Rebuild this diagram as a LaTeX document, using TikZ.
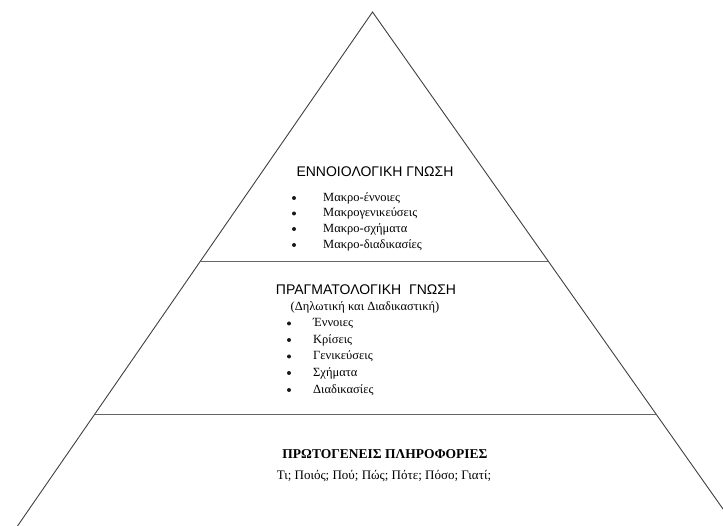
\documentclass[tikz,border=0pt]{standalone}
\usepackage{fontspec}
\setmainfont{Liberation Serif}
\newfontfamily\arialfont{Liberation Sans}
\begin{document}
\begin{tikzpicture}[x=1pt,y=-1pt,
  side/.style={draw=black!75,line width=0.9pt},
  divider/.style={draw=black!60,line width=0.8pt},
  heading/.style={font=\arialfont\fontsize{14}{16}\selectfont,inner sep=0pt},
  sub/.style={font=\fontsize{12.5}{14}\selectfont,inner sep=0pt},
  item/.style={font=\fontsize{12.5}{14}\selectfont,anchor=west,inner sep=0pt},
  dot/.style={circle,fill=black!90,inner sep=0pt,minimum size=4pt},
  basetitle/.style={font=\bfseries\fontsize{13.5}{15}\selectfont,inner sep=0pt},
  baseline/.style={font=\fontsize{13}{15}\selectfont,inner sep=0pt}]
\useasboundingbox (0,0) rectangle (723,526);
\coordinate (apex) at (372.5,12);
\coordinate (leftfoot) at (17.5,526);
\coordinate (rightfoot) at (735,526);
\coordinate (d1l) at (200.7,261);
\coordinate (d1r) at (548,261);
\coordinate (d2l) at (95,414);
\coordinate (d2r) at (656,414);
\begin{scope}
\clip (0,0) rectangle (723,526);
\draw[side] (leftfoot) -- (apex) -- (rightfoot);
\end{scope}
\draw[divider] (d1l) -- (d1r);
\draw[divider] (d2l) -- (d2r);

% top section
\node[heading] (t1) at (375,172) {ΕΝΝΟΙΟΛΟΓΙΚΗ ΓΝΩΣΗ};
\node[dot] (b11) at (294,198) {};
\node[dot] (b12) at (294,213.5) {};
\node[dot] (b13) at (294,229) {};
\node[dot] (b14) at (294,245) {};
\node[item] (i11) at (323,198) {Μακρο-έννοιες};
\node[item] (i12) at (323,213.5) {Μακρογενικεύσεις};
\node[item] (i13) at (323,229) {Μακρο-σχήματα};
\node[item] (i14) at (323,245) {Μακρο-διαδικασίες};

% middle section
\node[heading] (t2) at (366,290) {ΠΡΑΓΜΑΤΟΛΟΓΙΚΗ\ \ ΓΝΩΣΗ};
\node[sub] (s2) at (365,307) {(Δηλωτική και Διαδικαστική)};
\node[dot] (b21) at (289,323.5) {};
\node[dot] (b22) at (289,340) {};
\node[dot] (b23) at (289,356.5) {};
\node[dot] (b24) at (289,373) {};
\node[dot] (b25) at (289,390) {};
\node[item] (i21) at (313,323.5) {Έννοιες};
\node[item] (i22) at (313,340) {Κρίσεις};
\node[item] (i23) at (313,356.5) {Γενικεύσεις};
\node[item] (i24) at (313,373) {Σχήματα};
\node[item] (i25) at (313,390) {Διαδικασίες};

% bottom section
\node[basetitle] (t3) at (385,454) {ΠΡΩΤΟΓΕΝΕΙΣ ΠΛΗΡΟΦΟΡΙΕΣ};
\node[baseline] (q3) at (384,476) {Τι; Ποιός; Πού; Πώς; Πότε; Πόσο; Γιατί;};
\end{tikzpicture}
\end{document}
